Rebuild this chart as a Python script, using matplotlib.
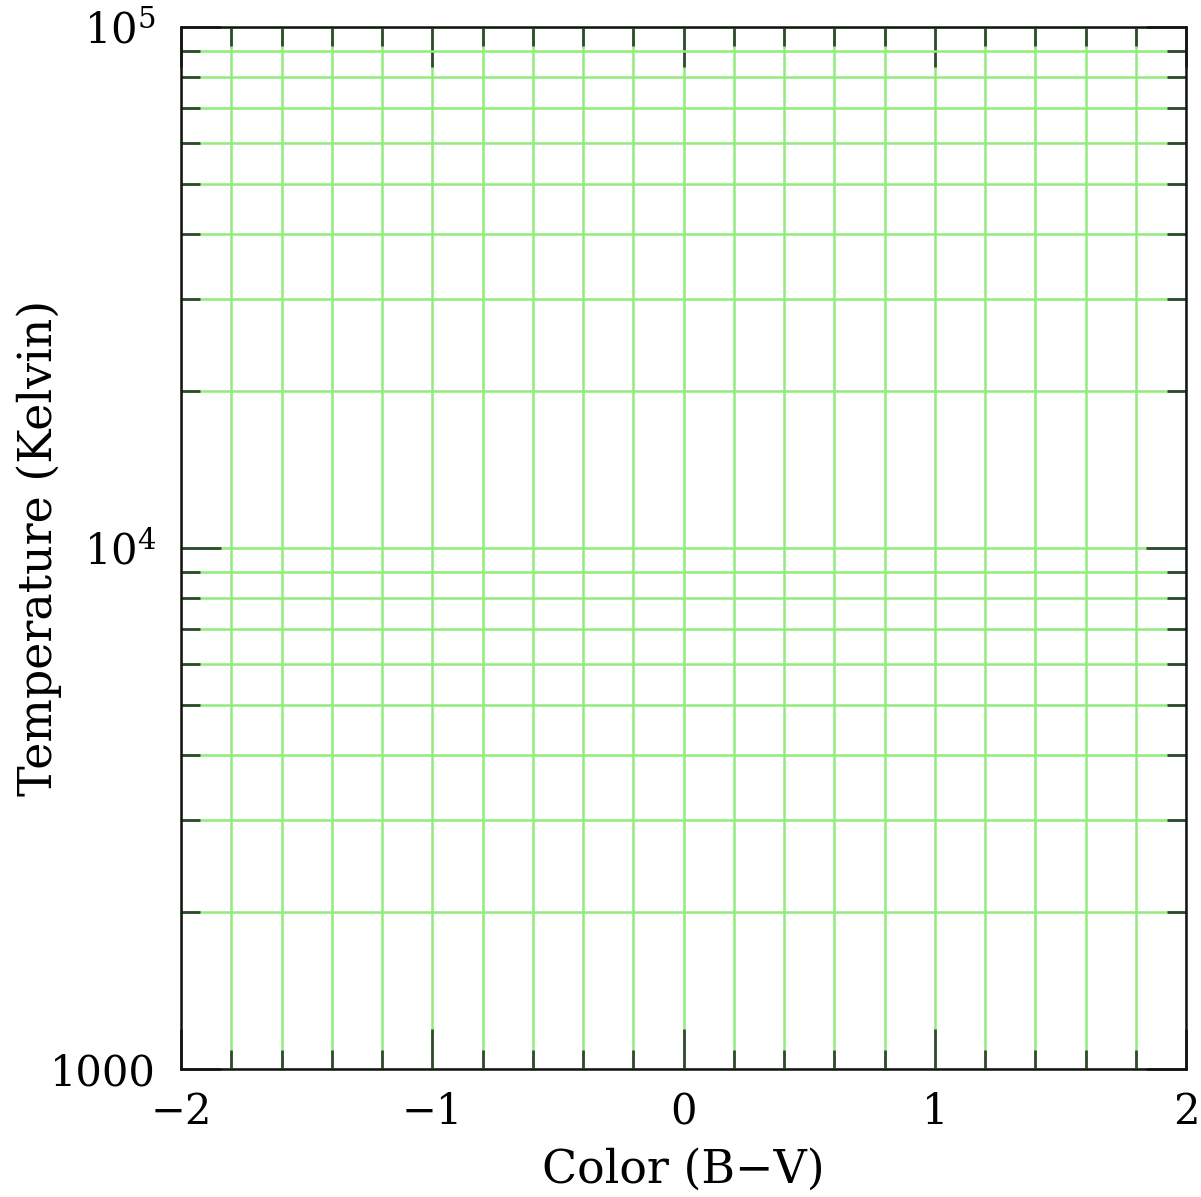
import matplotlib
matplotlib.use("Agg")
import matplotlib.pyplot as plt
from matplotlib.ticker import MultipleLocator, LogLocator, FixedLocator, FixedFormatter

# axis ranges and labels
x_range = [-2, 2]
y_range = [1000, 1e5]
x_major = [-2, -1, 0, 1, 2]
x_labels = ["\u22122", "\u22121", "0", "1", "2"]
y_major = [1000, 1e4, 1e5]
y_labels = ["1000", "$10^4$", "$10^5$"]
x_title = "Color (B\u2212V)"
y_title = "Temperature (Kelvin)"

plt.rcParams["font.family"] = "DejaVu Serif"
plt.rcParams["mathtext.fontset"] = "dejavuserif"

fig = plt.figure(figsize=(12.01, 11.97), dpi=100)
ax = fig.add_axes([181 / 1201, 1 - 1069 / 1197, (1186 - 181) / 1201, (1069 - 27) / 1197])

ax.set_xlim(x_range)
ax.set_yscale("log")
ax.set_ylim(y_range)

ax.xaxis.set_major_locator(FixedLocator(x_major))
ax.xaxis.set_major_formatter(FixedFormatter(x_labels))
ax.xaxis.set_minor_locator(MultipleLocator(0.2))
ax.yaxis.set_major_locator(FixedLocator(y_major))
ax.yaxis.set_major_formatter(FixedFormatter(y_labels))
ax.yaxis.set_minor_locator(LogLocator(base=10, subs=range(2, 10)))
ax.yaxis.set_minor_formatter(FixedFormatter([]))

gcol = "#92ec7c"
ax.grid(True, which="both", color=gcol, lw=1.8, zorder=0)
ax.set_axisbelow(True)

ax.tick_params(which="both", direction="in", top=True, right=True,
               color="#2f4a2f", width=2, labelsize=30)
ax.tick_params(which="major", length=29)
ax.tick_params(which="minor", length=14)
ax.tick_params(axis="x", pad=16)
ax.tick_params(axis="y", pad=18)

for s in ax.spines.values():
    s.set_linewidth(1.8)
    s.set_color("#111111")

ax.set_xlabel(x_title, fontsize=33, labelpad=10)
ax.set_ylabel(y_title, fontsize=33)
ax.yaxis.set_label_coords(-0.118, 0.5)

fig.savefig("out.png", dpi=100)
